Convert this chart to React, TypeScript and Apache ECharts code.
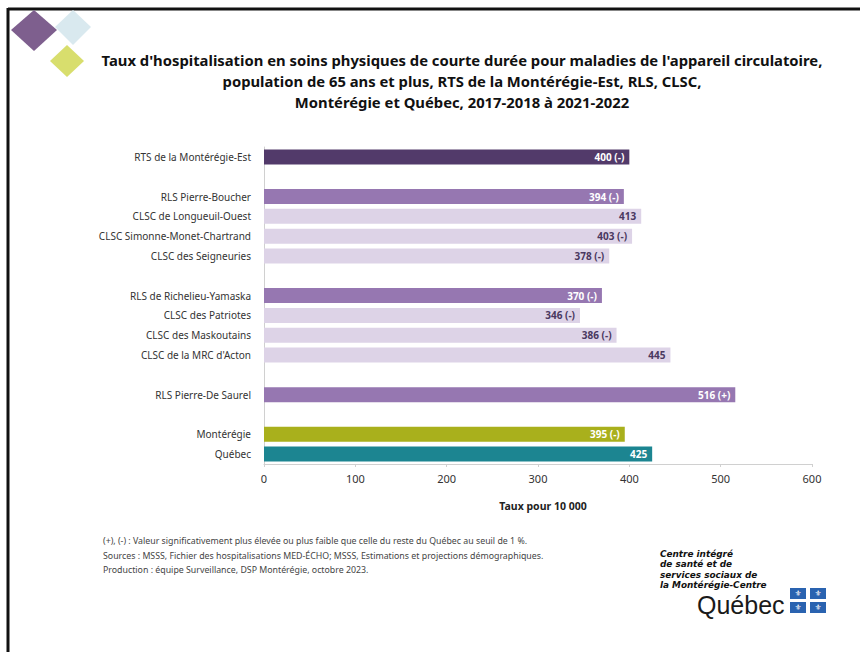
import React, { useEffect, useRef } from "react";
import * as echarts from "echarts";

const categories = [
  "RTS de la Montérégie-Est",
  " ",
  "RLS Pierre-Boucher",
  "CLSC de Longueuil-Ouest",
  "CLSC Simonne-Monet-Chartrand",
  "CLSC des Seigneuries",
  "  ",
  "RLS de Richelieu-Yamaska",
  "CLSC des Patriotes",
  "CLSC des Maskoutains",
  "CLSC de la MRC d'Acton",
  "   ",
  "RLS Pierre-De Saurel",
  "    ",
  "Montérégie",
  "Québec",
];
const values = [400, null, 394, 413, 403, 378, null, 370, 346, 386, 445, null, 516, null, 395, 425];
const significance = ["(-)", "", "(-)", "", "(-)", "(-)", "", "(-)", "(-)", "(-)", "", "", "(+)", "", "(-)", ""];
const groups = ["rts", "gap", "rls", "clsc", "clsc", "clsc", "gap", "rls", "clsc", "clsc", "clsc", "gap", "rls", "gap", "mont", "qc"];

const xMin = 0;
const xMax = 600;
const xInterval = 100;
const xAxisName = "Taux pour 10 000";

const titleLines = [
  "Taux d'hospitalisation en soins physiques de courte durée pour maladies de l'appareil circulatoire,",
  "population de 65 ans et plus, RTS de la Montérégie-Est, RLS, CLSC,",
  "Montérégie et Québec, 2017-2018 à 2021-2022",
];
const footnotes = [
  "(+), (-) : Valeur significativement plus élevée ou plus faible que celle du reste du Québec au seuil de 1 %.",
  "Sources : MSSS, Fichier des hospitalisations MED-ÉCHO; MSSS, Estimations et projections démographiques.",
  "Production : équipe Surveillance, DSP Montérégie, octobre 2023.",
];
const logoLines = ["Centre intégré", "de santé et de", "services sociaux de", "la Montérégie-Centre"];
const logoWord = "Québec";

const barColors: Record<string, string> = {
  rts: "#523a6a",
  rls: "#9677b1",
  clsc: "#ddd3e7",
  mont: "#a9b01c",
  qc: "#1c8591",
  gap: "transparent",
};
const labelColors: Record<string, string> = {
  rts: "#ffffff",
  rls: "#ffffff",
  clsc: "#4a3860",
  mont: "#ffffff",
  qc: "#ffffff",
  gap: "transparent",
};

const FONT = "Noto Sans";

export default function App() {
  const ref = useRef<HTMLDivElement>(null);
  useEffect(() => {
    document.body.style.margin = "0";
    const chart = echarts.init(ref.current!, null, { renderer: "svg" });

    const seriesData = values.map((v, i) => ({
      value: v,
      itemStyle: { color: barColors[groups[i]] },
      label: { color: labelColors[groups[i]] },
    }));

    const graphics: any[] = [];
    // border
    graphics.push({
      type: "line",
      shape: { x1: 8, y1: 9, x2: 860, y2: 9 },
      style: { stroke: "#111", lineWidth: 3 },
      silent: true,
    });
    graphics.push({
      type: "line",
      shape: { x1: 8, y1: 8, x2: 8, y2: 652 },
      style: { stroke: "#111", lineWidth: 3 },
      silent: true,
    });
    // diamonds
    graphics.push({
      type: "polygon",
      shape: { points: [[73, 10], [91, 27], [73, 45], [55, 27]] },
      style: { fill: "#d9e9ef" },
    });
    graphics.push({
      type: "polygon",
      shape: { points: [[34, 10], [57, 30], [34, 51], [11, 30]] },
      style: { fill: "#7e5f8e" },
    });
    graphics.push({
      type: "polygon",
      shape: { points: [[67, 45], [84, 61], [67, 77], [50, 61]] },
      style: { fill: "#d8de6d" },
    });
    // title
    graphics.push({
      type: "text",
      x: 462,
      y: 81,
      style: {
        text: titleLines.join("\n"),
        fill: "#111",
        font: `bold 14.8px "${FONT}"`,
        lineHeight: 21,
        textAlign: "center",
        textVerticalAlign: "middle",
      },
    });
    // footnotes
    graphics.push({
      type: "text",
      x: 103,
      y: 555.5,
      style: {
        text: footnotes.join("\n"),
        fill: "#444",
        font: `8.8px "${FONT}"`,
        lineHeight: 14.5,
        textAlign: "left",
        textVerticalAlign: "middle",
      },
    });
    // logo text
    graphics.push({
      type: "text",
      x: 660,
      y: 569.6,
      style: {
        text: logoLines.join("\n"),
        fill: "#111",
        font: `italic bold 8.9px "DejaVu Sans"`,
        lineHeight: 10.4,
        textAlign: "left",
        textVerticalAlign: "middle",
      },
    });
    graphics.push({
      type: "text",
      x: 697,
      y: 605,
      style: {
        text: logoWord,
        fill: "#1a1a1a",
        font: `25px "Liberation Sans"`,
        textAlign: "left",
        textVerticalAlign: "middle",
      },
    });
    // flags
    const fx = [790, 810];
    const fy = [588, 602];
    fx.forEach((x) =>
      fy.forEach((y) => {
        graphics.push({
          type: "rect",
          shape: { x, y, width: 16, height: 11 },
          style: { fill: "#2a63b0" },
        });
        graphics.push({
          type: "text",
          x: x + 8,
          y: y + 5.5,
          style: {
            text: "⚜",
            fill: "#fff",
            font: `8px "DejaVu Sans"`,
            textAlign: "center",
            textVerticalAlign: "middle",
          },
        });
      })
    );

    chart.setOption({
      animation: false,
      backgroundColor: "#ffffff",
      textStyle: { fontFamily: FONT },
      grid: { left: 264, right: 48, top: 147, bottom: 188, containLabel: false },
      xAxis: {
        type: "value",
        min: xMin,
        max: xMax,
        interval: xInterval,
        name: xAxisName,
        nameLocation: "middle",
        nameGap: 36,
        nameTextStyle: { fontFamily: FONT, fontWeight: "bold", fontSize: 10.5, color: "#222", padding: [0, 0, 0, 10] },
        axisLine: { show: true, lineStyle: { color: "#d0d0d0", width: 1 } },
        axisTick: { show: true, length: 3, lineStyle: { color: "#d0d0d0" } },
        axisLabel: { color: "#333", fontSize: 11, fontFamily: FONT, margin: 9 },
        splitLine: { show: false },
      },
      yAxis: {
        type: "category",
        data: categories,
        inverse: true,
        axisLine: { show: true, lineStyle: { color: "#d0d0d0", width: 1 } },
        axisTick: { show: false },
        axisLabel: { color: "#333", fontSize: 10, fontFamily: FONT, margin: 13 },
      },
      series: [
        {
          type: "bar",
          data: seriesData,
          barWidth: 15,
          label: {
            show: true,
            position: "insideRight",
            distance: 5,
            fontSize: 10,
            fontWeight: "bold",
            fontFamily: FONT,
            formatter: (p: any) =>
              p.value == null ? "" : significance[p.dataIndex] ? `${p.value} ${significance[p.dataIndex]}` : `${p.value}`,
          },
        },
      ],
      graphic: graphics,
    });
    return () => chart.dispose();
  }, []);
  return <div ref={ref} style={{ width: 860, height: 652 }} />;
}
